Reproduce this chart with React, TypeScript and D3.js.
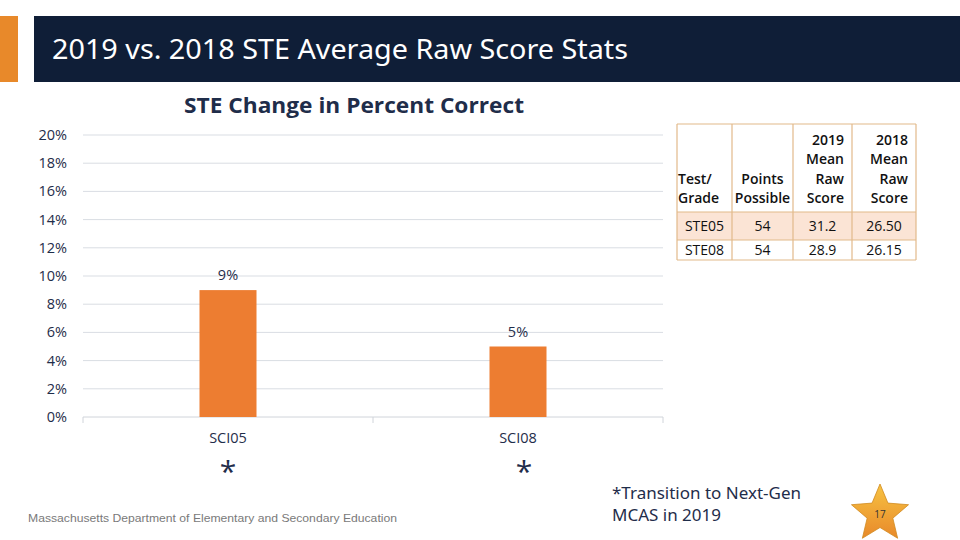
import React from "react";
import * as d3 from "d3";

const categories = ["SCI05", "SCI08"];
const values = [9, 5];
const valueLabels = ["9%", "5%"];
const yTicks = [0, 2, 4, 6, 8, 10, 12, 14, 16, 18, 20];

const tableHeader = [
  ["Test/", "Grade"],
  ["Points", "Possible"],
  ["2019", "Mean", "Raw", "Score"],
  ["2018", "Mean", "Raw", "Score"],
];
const tableRows = [
  ["STE05", "54", "31.2", "26.50"],
  ["STE08", "54", "28.9", "26.15"],
];

const FONT = "'Open Sans', 'Noto Sans', sans-serif";
const NAVY = "#1f2d4a";

function Star({ cx, cy, r }: { cx: number; cy: number; r: number }) {
  const pts: [number, number][] = [];
  for (let i = 0; i < 10; i++) {
    const a = -Math.PI / 2 + (i * Math.PI) / 5;
    const rr = i % 2 === 0 ? r : r * 0.45;
    pts.push([cx + rr * Math.cos(a), cy + rr * Math.sin(a)]);
  }
  return <polygon points={pts.map((p) => p.join(",")).join(" ")} fill="url(#starGrad)" stroke="#d08a20" strokeWidth={0.8} />;
}

export default function App() {
  const x = d3.scaleBand<string>().domain(categories).range([83, 663]);
  const y = d3.scaleLinear().domain([0, 20]).range([417, 135]);
  const barW = 57;

  const colX = [677, 732, 793, 852, 916];
  const rowY = [124, 212, 240, 260];

  return (
    <svg width={960} height={540} style={{ position: "absolute", left: 0, top: 0 }} fontFamily={FONT}>
      <defs>
        <linearGradient id="starGrad" x1="0" y1="0" x2="0" y2="1">
          <stop offset="0%" stopColor="#f7c342" />
          <stop offset="100%" stopColor="#e8892a" />
        </linearGradient>
      </defs>
      <rect width={960} height={540} fill="#fff" />
      <rect x={0} y={16} width={18} height={66} fill="#e8892a" />
      <rect x={34} y={16} width={926} height={66} fill="#0f1e37" />
      <text x={52} y={59} fill="#fff" fontSize={27} textLength={576} lengthAdjust="spacingAndGlyphs" fontFamily="'Noto Sans', 'Open Sans', sans-serif">
        2019 vs. 2018 STE Average Raw Score Stats
      </text>

      <text x={184} y={113} fill={NAVY} fontSize={21.5} fontWeight="bold" textLength={340} lengthAdjust="spacingAndGlyphs">
        STE Change in Percent Correct
      </text>

      {yTicks.map((t) => (
        <g key={t}>
          {t > 0 && <line x1={83} x2={663} y1={y(t)} y2={y(t)} stroke="#d9dde3" strokeWidth={1} />}
          <text x={67} y={y(t) + 5} textAnchor="end" fill={NAVY} fontSize={14.5}>
            {t}%
          </text>
        </g>
      ))}
      <line x1={83} x2={663} y1={y(0)} y2={y(0)} stroke="#d0d4da" strokeWidth={1} />
      {[83, 373, 663].map((tx) => (
        <line key={tx} x1={tx} x2={tx} y1={y(0)} y2={y(0) + 6} stroke="#d0d4da" strokeWidth={1} />
      ))}

      {categories.map((c, i) => {
        const cx = (x(c) as number) + x.bandwidth() / 2;
        return (
          <g key={c}>
            <rect x={cx - barW / 2} y={y(values[i])} width={barW} height={y(0) - y(values[i])} fill="#ed7d31" />
            <text x={cx} y={y(values[i]) - 10} textAnchor="middle" fill={NAVY} fontSize={14.5}>
              {valueLabels[i]}
            </text>
            <text x={cx} y={443} textAnchor="middle" fill={NAVY} fontSize={14.5}>
              {c}
            </text>
            <text x={cx + (i === 1 ? 6 : 0)} y={482} textAnchor="middle" fill={NAVY} fontSize={30}>
              *
            </text>
          </g>
        );
      })}

      {/* table */}
      <rect x={colX[0]} y={rowY[1]} width={colX[4] - colX[0]} height={rowY[2] - rowY[1]} fill="#fbe4d5" />
      {rowY.map((ry) => (
        <line key={ry} x1={colX[0]} x2={colX[4]} y1={ry} y2={ry} stroke="#e2b98a" strokeWidth={1.2} />
      ))}
      {colX.map((cx) => (
        <line key={cx} x1={cx} x2={cx} y1={rowY[0]} y2={rowY[3]} stroke="#e2b98a" strokeWidth={1.2} />
      ))}
      {tableHeader.map((lines, ci) => {
        const n = lines.length;
        const midX = (colX[ci] + colX[ci + 1]) / 2;
        const left = ci === 0;
        const right = ci >= 2;
        return lines.map((ln, li) => (
          <text
            key={ci + "-" + li}
            x={left ? colX[ci] + 1 : right ? colX[ci + 1] - 8 : midX}
            y={rowY[1] - 9 - (n - 1 - li) * 19.5}
            textAnchor={left ? "start" : right ? "end" : "middle"}
            fontSize={14}
            fontWeight={600}
            fill="#111"
          >
            {ln}
          </text>
        ));
      })}
      {tableRows.map((row, ri) =>
        row.map((cell, ci) => (
          <text
            key={ri + "-" + ci}
            x={(colX[ci] + colX[ci + 1]) / 2}
            y={rowY[ri + 1] + (rowY[ri + 2] - rowY[ri + 1]) / 2 + 5}
            textAnchor="middle"
            fontSize={14}
            fill="#111"
          >
            {cell}
          </text>
        ))
      )}

      <text x={28} y={522} fill="#7a7a7a" fontSize={11.5} textLength={369} lengthAdjust="spacingAndGlyphs" fontFamily="'Liberation Sans', Arial, sans-serif">
        Massachusetts Department of Elementary and Secondary Education
      </text>
      <text x={612} y={499} fill={NAVY} fontSize={17} fontFamily="'Noto Sans', 'Open Sans', sans-serif">
        *Transition to Next-Gen
      </text>
      <text x={612} y={521} fill={NAVY} fontSize={17} fontFamily="'Noto Sans', 'Open Sans', sans-serif">
        MCAS in 2019
      </text>
      <Star cx={880} cy={514} r={30} />
      <text x={880} y={518} textAnchor="middle" fontSize={10} fill="#333">
        17
      </text>
    </svg>
  );
}
